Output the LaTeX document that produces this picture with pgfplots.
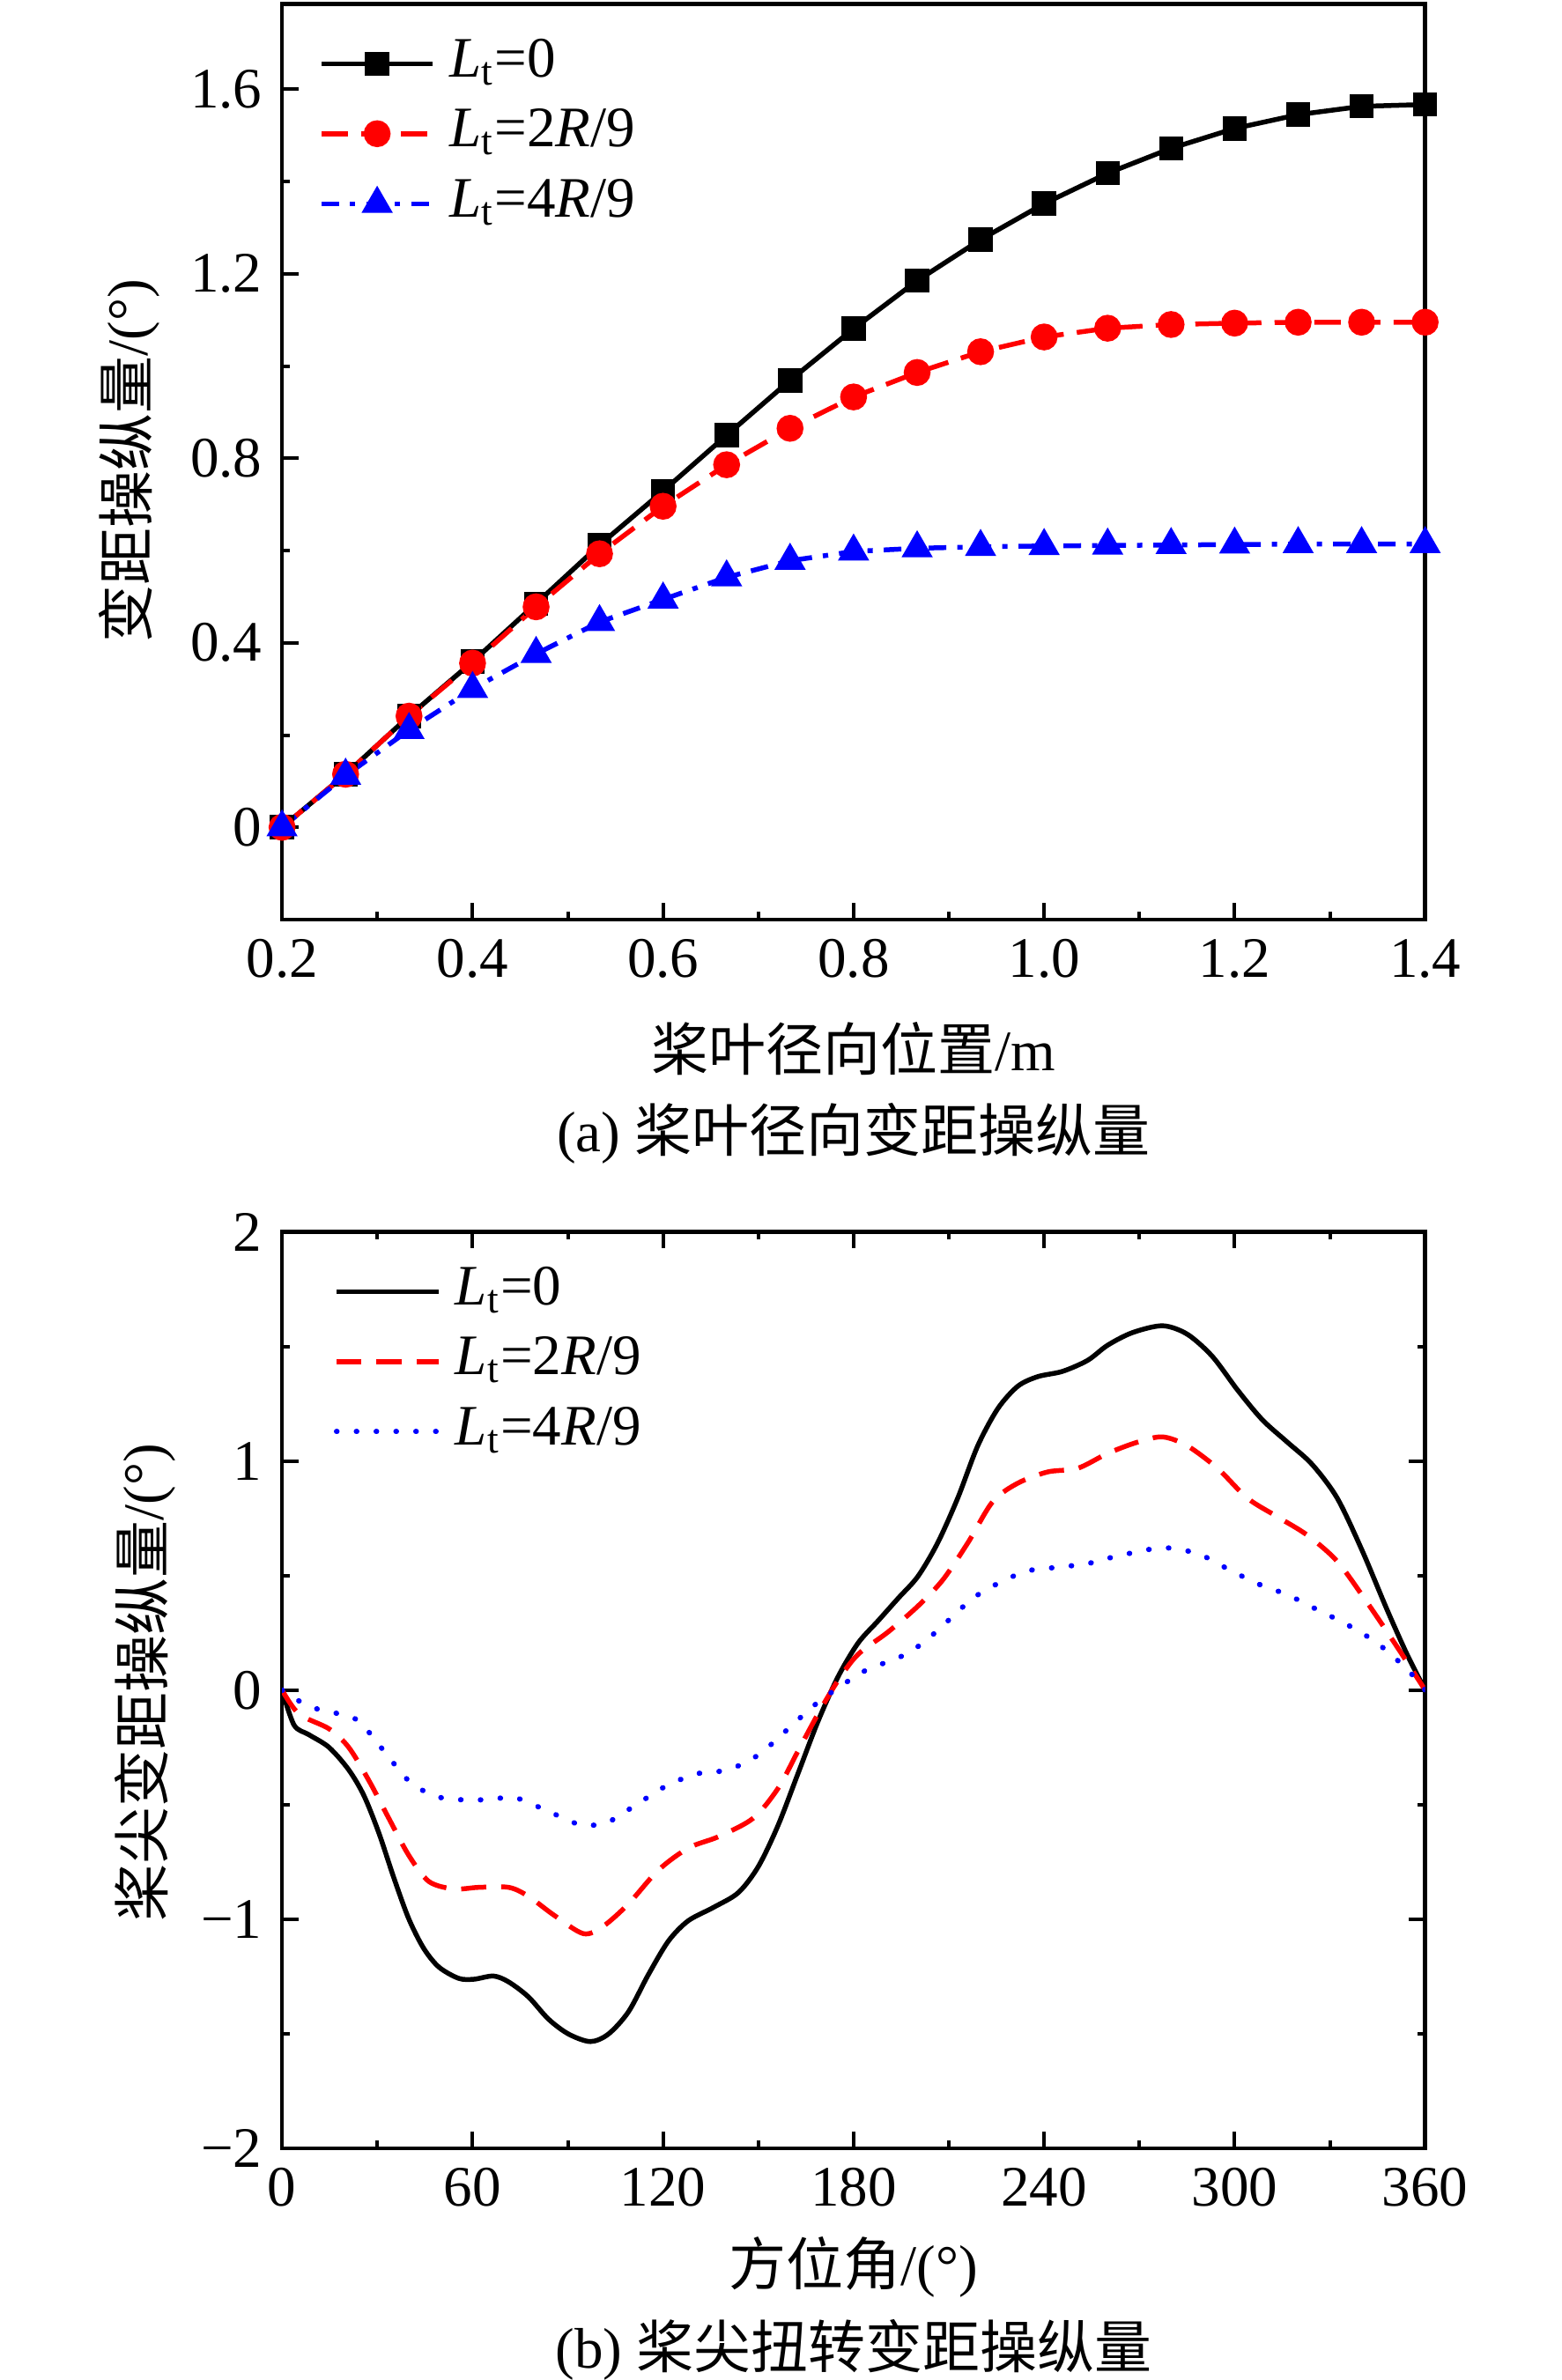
\documentclass[border=0pt]{standalone}
\usepackage{pgfplots}
\pgfplotsset{compat=1.18}
\usepackage{fontspec}
\setmainfont{Liberation Serif}
\newfontfamily\cjk{Noto Sans CJK SC}
\newcommand{\Lt}{\textit{L}\textsubscript{t}}
\pgfplotsset{
  myaxis/.style={
    scale only axis,
    width=259.5pt,
    tick align=inside,
    major tick length=3.7pt,
    minor tick length=1.8pt,
    every tick/.style={black, line width=0.8pt},
    axis line style={line width=0.9pt},
    tick label style={font=\fontsize{13}{15}\selectfont},
    legend cell align=left,
    legend style={draw=none, fill=none, font=\fontsize{13}{15}\selectfont,
      column sep=2.2pt, row sep=1.9pt,
      nodes={inner sep=1pt, text height=9pt, text depth=3pt}},
  }
}
\begin{document}
\fontsize{13}{15}\selectfont
\begin{tikzpicture}
\path[use as bounding box] (0,0) rectangle (354.4pt,540.4pt);
% ---------------- (a) ----------------
\begin{axis}[myaxis,
  at={(64.03pt,331.6pt)}, anchor=south west,
  height=207.9pt,
  xmin=0.2, xmax=1.4, ymin=-0.2, ymax=1.785,
  xtick={0.2,0.4,0.6,0.8,1.0,1.2,1.4},
  xticklabels={0.2,0.4,0.6,0.8,1.0,1.2,1.4},
  minor xtick={0.3,0.5,0.7,0.9,1.1,1.3},
  ytick={0,0.4,0.8,1.2,1.6},
  yticklabels={0,0.4,0.8,1.2,1.6},
  minor ytick={0.2,0.6,1.0,1.4},
  xtick pos=left, ytick pos=left,
  legend style={at={(0.02,0.979)}, anchor=north west},
  legend image code/.code={\draw[mark repeat=2,mark phase=2,#1] plot coordinates {(0pt,0pt) (12.65pt,0pt) (25.3pt,0pt)};},
]
\addplot[black, line width=1.1pt, mark=square*, mark size=2.2pt, mark options={solid}] coordinates {
(0.2,0) (0.2667,0.115) (0.3333,0.241) (0.4,0.359) (0.4667,0.485) (0.5333,0.612)
(0.6,0.729) (0.6667,0.850) (0.7333,0.969) (0.8,1.081) (0.8667,1.185) (0.9333,1.274)
(1.0,1.352) (1.0667,1.418) (1.1333,1.472) (1.2,1.515) (1.2667,1.545) (1.3333,1.563) (1.4,1.567)};
\addlegendentry{\Lt=0}
\addplot[red, line width=1.1pt, dash pattern=on 6pt off 3pt, mark=*, mark size=2.5pt, mark options={solid}] coordinates {
(0.2,0) (0.2667,0.115) (0.3333,0.241) (0.4,0.356) (0.4667,0.478) (0.5333,0.593)
(0.6,0.696) (0.6667,0.786) (0.7333,0.865) (0.8,0.933) (0.8667,0.986) (0.9333,1.031)
(1.0,1.063) (1.0667,1.082) (1.1333,1.090) (1.2,1.093) (1.2667,1.095) (1.3333,1.095) (1.4,1.095)};
\addlegendentry{\Lt=2\textit{R}/9}
\addplot[blue, line width=1.1pt, dash pattern=on 4pt off 2.5pt on 1.2pt off 2.5pt, mark=triangle*, mark size=3pt, mark options={solid}] coordinates {
(0.2,0) (0.2667,0.112) (0.3333,0.211) (0.4,0.300) (0.4667,0.376) (0.5333,0.445)
(0.6,0.494) (0.6667,0.542) (0.7333,0.578) (0.8,0.598) (0.8667,0.605) (0.9333,0.608)
(1.0,0.610) (1.0667,0.611) (1.1333,0.612) (1.2,0.613) (1.2667,0.614) (1.3333,0.614) (1.4,0.614)};
\addlegendentry{\Lt=4\textit{R}/9}
\end{axis}
\node[rotate=90] at (29.4pt,435.8pt) {{\cjk 变距操纵量}/(°)};
\node at (193.8pt,302.2pt) {{\cjk 桨叶径向位置}/m};
\node at (193.8pt,283.1pt) {(a) {\cjk 桨叶径向变距操纵量}};
% ---------------- (b) ----------------
\begin{axis}[myaxis,
  at={(64.03pt,52.6pt)}, anchor=south west,
  height=208.1pt,
  xmin=0, xmax=360, ymin=-2, ymax=2,
  xtick={0,60,120,180,240,300,360},
  xticklabels={0,60,120,180,240,300,360},
  minor xtick={30,90,150,210,270,330},
  ytick={-2,-1,0,1,2},
  yticklabels={−2,−1,0,1,2},
  minor ytick={-1.5,-0.5,0.5,1.5},
  xtick pos=both, ytick pos=both,
  legend style={at={(0.033,0.979)}, anchor=north west},
  legend image code/.code={\draw[#1] (0pt,0pt) -- (23.2pt,0pt);},
]
\addplot[black, line width=1.1pt, smooth] coordinates {
(0,0) (3.8,-0.153) (8.5,-0.195) (14.8,-0.25) (21,-0.348) (25.8,-0.461) (30.5,-0.624)
(35.2,-0.819) (39.9,-0.998) (44.6,-1.127) (49.4,-1.209) (55.6,-1.258) (60.4,-1.262)
(66.6,-1.248) (71.4,-1.274) (77.6,-1.339) (83.9,-1.436) (90.2,-1.501) (97.1,-1.534)
(102.8,-1.501) (109.1,-1.404) (115.4,-1.241) (121.7,-1.095) (127.9,-1.007) (135.8,-0.949)
(143.7,-0.884) (150.0,-0.770) (156.2,-0.591) (162.5,-0.364) (168.8,-0.136) (175.1,0.058)
(181.4,0.205) (187.7,0.302) (194.0,0.400) (200.3,0.497) (206.5,0.643) (212.8,0.838)
(219.1,1.066) (225.4,1.228) (231.7,1.326) (238.0,1.368) (245.8,1.391) (253.7,1.439)
(260.0,1.505) (267.8,1.560) (277.3,1.590) (285.1,1.553) (293.0,1.456) (300.9,1.310)
(308.7,1.180) (316.6,1.082) (324.4,0.985) (332.3,0.838) (340.1,0.611) (348.0,0.351)
(354.3,0.156) (360,0.0)};
\addlegendentry{\Lt=0}
\addplot[red, line width=1.1pt, smooth, dash pattern=on 5.7pt off 3.4pt] coordinates {
(0,0) (5.3,-0.104) (14.8,-0.169) (21,-0.25) (27.4,-0.396) (33.6,-0.559) (39.9,-0.721)
(46.2,-0.835) (54.1,-0.868) (61.9,-0.861) (71.4,-0.861) (77.6,-0.900) (85.5,-0.981)
(94.9,-1.063) (101.2,-1.030) (109.1,-0.933) (118.5,-0.786) (128.0,-0.689) (137.4,-0.640)
(148.4,-0.559) (156.2,-0.429) (162.5,-0.266) (168.8,-0.104) (175.1,0.042) (181.4,0.156)
(190.8,0.253) (200.3,0.367) (208.1,0.481) (216.0,0.643) (223.8,0.822) (231.7,0.903)
(241.1,0.952) (250.6,0.968) (260.0,1.033) (269.4,1.082) (277.3,1.105) (285.1,1.066)
(294.6,0.968) (304.0,0.838) (313.4,0.757) (322.9,0.676) (332.3,0.562) (341.7,0.383)
(351.2,0.188) (360,0)};
\addlegendentry{\Lt=2\textit{R}/9}
\addplot[blue, line width=1.2pt, smooth, line cap=round, dash pattern=on 0.1pt off 4.4pt] coordinates {
(0,0) (8.5,-0.071) (17.9,-0.104) (24.2,-0.136) (32.1,-0.266) (39.9,-0.396) (47.8,-0.461)
(55.6,-0.478) (65.1,-0.478) (72.9,-0.468) (80.8,-0.510) (88.7,-0.559) (94.9,-0.591)
(102.8,-0.575) (112.2,-0.494) (121.7,-0.413) (131.1,-0.364) (140.5,-0.348) (150.0,-0.283)
(159.4,-0.169) (167.2,-0.071) (175.1,0.010) (184.5,0.091) (194.0,0.140) (201.8,0.205)
(209.7,0.302) (217.5,0.400) (225.4,0.465) (234.8,0.520) (244.3,0.536) (253.7,0.552)
(263.1,0.585) (277.3,0.621) (288.4,0.595) (297.7,0.530) (307.1,0.465) (316.6,0.416)
(326.0,0.351) (335.4,0.286) (344.9,0.205) (354.3,0.091) (360,0)};
\addlegendentry{\Lt=4\textit{R}/9}
\end{axis}
\node[rotate=90] at (32.9pt,158.4pt) {{\cjk 桨尖变距操纵量}/(°)};
\node at (193.8pt,25.6pt) {{\cjk 方位角}/(°)};
\node at (193.8pt,6.9pt) {(b) {\cjk 桨尖扭转变距操纵量}};
\end{tikzpicture}
\end{document}
